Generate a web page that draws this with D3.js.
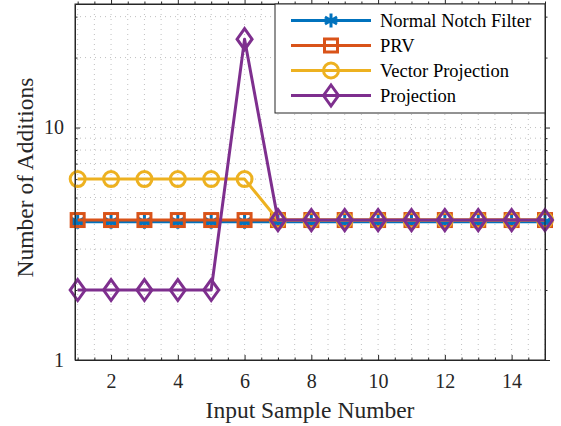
<!DOCTYPE html>
<html>
<head>
<meta charset="utf-8">
<script src="https://cdn.jsdelivr.net/npm/d3@7"></script>
<style>
  html, body { margin: 0; padding: 0; background: #fff; }
  svg { display: block; font-family: "Liberation Serif", "Times New Roman", serif; }
</style>
</head>
<body>
<div id="chart"></div>
<script>
// Daten
const samples = d3.range(1, 16);
const normalNotch = [3.93, 3.93, 3.93, 3.93, 3.93, 3.93, 3.93, 3.93, 3.93, 3.93, 3.93, 3.93, 3.93, 3.93, 3.93];
const prv = [4, 4, 4, 4, 4, 4, 4, 4, 4, 4, 4, 4, 4, 4, 4];
const vectorProj = [6, 6, 6, 6, 6, 6, 4, 4, 4, 4, 4, 4, 4, 4, 4];
const projection = [2, 2, 2, 2, 2, 24, 4, 4, 4, 4, 4, 4, 4, 4, 4];
const seriesNames = ['Normal Notch Filter', 'PRV', 'Vector Projection', 'Projection'];
const xTicks = [2, 4, 6, 8, 10, 12, 14];
const yTicks = [1, 10];

const W = 561, H = 426;
const M = { left: 75, right: 16, top: 4, bottom: 66 };
const COLORS = ['#0072BD', '#D95319', '#EDB120', '#7E2F8E'];
const MARKERS = ['asterisk', 'square', 'circle', 'diamond'];
const AX = '#262626';
const SERIF = '"Liberation Serif", "Times New Roman", serif';

const svg = d3.select('#chart').append('svg')
  .attr('width', W).attr('height', H);

const x = d3.scaleLinear().domain([0.92, 15]).range([M.left, W - M.right]);
const y = d3.scaleLog().domain([1, 34]).range([H - M.bottom, M.top]);

const x0 = x.range()[0], x1 = x.range()[1];
const y0 = y.range()[0], y1 = y.range()[1];

// Gitter (gepunktet), Haupt- und Nebenlinien
const grid = svg.append('g').attr('stroke', '#b0b0b0').attr('stroke-width', 0.8)
  .attr('stroke-dasharray', '1,4');
const xGrid = d3.range(1, 15.01, 0.5);
grid.selectAll('.gx').data(xGrid).join('line')
  .attr('x1', d => x(d)).attr('x2', d => x(d)).attr('y1', y0).attr('y2', y1);
const yGrid = [2, 3, 4, 5, 6, 7, 8, 9, 10, 20, 30];
grid.selectAll('.gy').data(yGrid).join('line')
  .attr('y1', d => y(d)).attr('y2', d => y(d)).attr('x1', x0).attr('x2', x1);

// Achsen mit Ticks nach innen, auch oben und rechts
const xMinor = d3.range(1, 15.01, 0.5).filter(d => !xTicks.includes(d));
const yMinor = [2, 3, 4, 5, 6, 7, 8, 9, 20, 30];

function tickAxis(axis, scale, ticks, minor, pad, pos, flip) {
  const s = flip ? 1 : -1;
  const g = svg.append('g').attr('transform', pos);
  g.call(axis(scale).tickValues(ticks).tickSizeInner(5 * s).tickSizeOuter(0)
    .tickPadding(pad).tickFormat(pad ? d3.format('d') : ''));
  g.attr('font-family', SERIF).attr('font-size', 20);
  g.select('.domain').attr('stroke', AX).attr('stroke-width', 1);
  g.selectAll('.tick line').attr('stroke', AX);
  g.selectAll('.tick text').attr('fill', AX);
  const gm = svg.append('g').attr('transform', pos);
  gm.call(axis(scale).tickValues(minor).tickSizeInner(2.5 * s).tickSizeOuter(0).tickFormat(''));
  gm.select('.domain').remove();
  gm.selectAll('.tick line').attr('stroke', AX);
  return g;
}

tickAxis(d3.axisBottom, x, xTicks, xMinor, 14, `translate(0,${y0})`, false);
tickAxis(d3.axisTop, x, xTicks, xMinor, 0, `translate(0,${y1})`, true);
tickAxis(d3.axisLeft, y, yTicks, yMinor, 11, `translate(${x0},0)`, false);
tickAxis(d3.axisRight, y, yTicks, yMinor, 0, `translate(${x1},0)`, true);

// Achsentitel
svg.append('text')
  .attr('x', (x0 + x1) / 2).attr('y', 418)
  .attr('text-anchor', 'middle').attr('font-size', 23.5).attr('fill', AX)
  .text('Input Sample Number');
svg.append('text')
  .attr('transform', `translate(33,177.5) rotate(-90)`)
  .attr('text-anchor', 'middle').attr('font-size', 23.5).attr('fill', AX)
  .text('Number of Additions');

// Marker
function drawMarker(g, type, color) {
  if (type === 'square') {
    g.append('rect').attr('x', -6.5).attr('y', -6.5).attr('width', 13).attr('height', 13)
      .attr('fill', 'none').attr('stroke', color).attr('stroke-width', 3);
  } else if (type === 'circle') {
    g.append('circle').attr('r', 7.5).attr('fill', 'none').attr('stroke', color).attr('stroke-width', 3);
  } else if (type === 'diamond') {
    g.append('path').attr('d', 'M0,-10.5L7.5,0L0,10.5L-7.5,0Z')
      .attr('fill', 'none').attr('stroke', color).attr('stroke-width', 3);
  } else {
    const r = 7;
    const p = [0, 60, 120].map(a => {
      const t = a * Math.PI / 180;
      return `M${r * Math.sin(t)},${-r * Math.cos(t)}L${-r * Math.sin(t)},${r * Math.cos(t)}`;
    }).join('') + `M${-r},0L${r},0`;
    g.append('path').attr('d', p).attr('stroke', color).attr('stroke-width', 3).attr('fill', 'none');
  }
}

const allSeries = [normalNotch, prv, vectorProj, projection];
const line = d3.line().x((d, i) => x(samples[i])).y(d => y(d));
const plot = svg.append('g');
allSeries.forEach((vals, si) => {
  plot.append('path').datum(vals).attr('d', line)
    .attr('fill', 'none').attr('stroke', COLORS[si]).attr('stroke-width', 3)
    .attr('stroke-linejoin', 'round');
  vals.forEach((v, i) => {
    const g = plot.append('g').attr('transform', `translate(${x(samples[i])},${y(v)})`);
    drawMarker(g, MARKERS[si], COLORS[si]);
  });
});

// Rahmen der Achsen
svg.append('rect').attr('x', x0).attr('y', y1).attr('width', x1 - x0).attr('height', y0 - y1)
  .attr('fill', 'none').attr('stroke', AX).attr('stroke-width', 1);

// Legende
const lg = svg.append('g');
const lx0 = 275, ly0 = y1, lw = x1 - 275, lh = 109;
lg.append('rect').attr('x', lx0).attr('y', ly0).attr('width', lw).attr('height', lh)
  .attr('fill', '#fff').attr('stroke', AX).attr('stroke-width', 1);
seriesNames.forEach((name, i) => {
  const yy = 20.5 + i * 25;
  lg.append('line').attr('x1', 291).attr('x2', 371).attr('y1', yy).attr('y2', yy)
    .attr('stroke', COLORS[i]).attr('stroke-width', 3);
  const g = lg.append('g').attr('transform', `translate(331,${yy})`);
  drawMarker(g, MARKERS[i], COLORS[i]);
  lg.append('text').attr('x', 380).attr('y', yy).attr('dy', '0.35em')
    .attr('font-size', 18.5).attr('fill', '#000').text(name);
});
</script>
</body>
</html>
